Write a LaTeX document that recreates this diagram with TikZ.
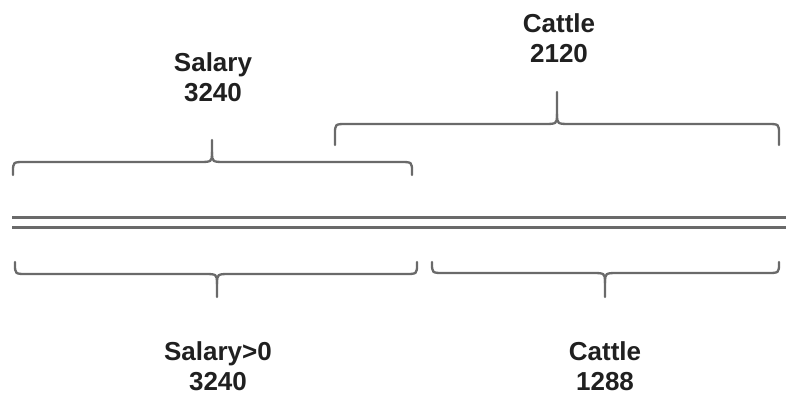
\documentclass[tikz,border=0pt]{standalone}
\usepackage{fontspec}
\setmainfont{Liberation Sans}
\definecolor{linegray}{HTML}{6A6A6A}
\definecolor{textcol}{HTML}{202020}
\newcommand{\mybrace}[7]{% xl, xr, cx, yend, yflat, ytip, sgn
  \draw[br] (#1,#4) -- (#1,{#5+#7*10}) .. controls (#1,#5) .. (#1+12,#5)
    -- (#3-14,#5) .. controls (#3,#5) .. (#3,{#5-#7*10}) -- (#3,#6);
  \draw[br] (#2,#4) -- (#2,{#5+#7*10}) .. controls (#2,#5) .. (#2-12,#5)
    -- (#3+14,#5) .. controls (#3,#5) .. (#3,{#5-#7*10});
}
\tikzset{
  br/.style={draw=linegray, line width=2.3pt, line cap=round},
  rail/.style={draw=linegray, line width=3pt},
  lbl/.style={font=\bfseries\fontsize{26}{30}\selectfont, text=textcol, align=center, inner sep=0pt}
}
\begin{document}
\begin{tikzpicture}[x=1pt,y=-1pt]
\useasboundingbox[fill=white] (0,0) rectangle (786,404);
% double line
\coordinate (r1a) at (12,217); \coordinate (r1b) at (786,217);
\coordinate (r2a) at (12,227); \coordinate (r2b) at (786,227);
\draw[rail] (r1a) -- (r1b);
\draw[rail] (r2a) -- (r2b);
% braces
\mybrace{13}{412}{212}{175}{162}{140}{1}
\mybrace{335}{779}{557}{145}{124}{92}{1}
\mybrace{15}{417}{217}{262}{274}{297}{-1}
\mybrace{432}{779}{605}{262}{273}{297}{-1}
% labels
\node[lbl] (salTop) at (213,77) {Salary\\3240};
\node[lbl] (catTop) at (559,38) {Cattle\\2120};
\node[lbl] (salBot) at (218,366) {Salary>0\\3240};
\node[lbl] (catBot) at (605,366) {Cattle\\1288};
\end{tikzpicture}
\end{document}
